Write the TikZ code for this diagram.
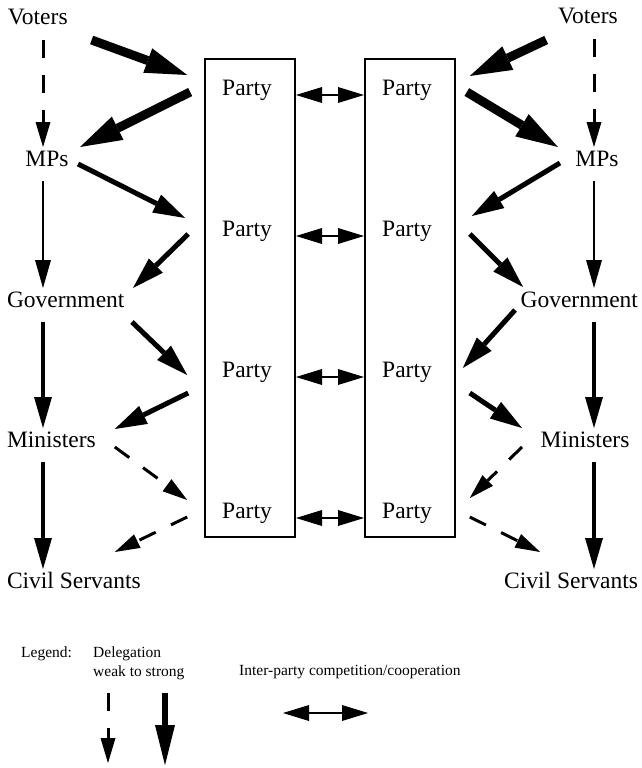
\documentclass[tikz,border=0pt]{standalone}
\usepackage{fontspec}
\setmainfont{Liberation Serif}
\usetikzlibrary{arrows.meta}
\usetikzlibrary{calc}

\begin{document}
\begin{tikzpicture}[x=1pt, y=-1pt,
    actor/.style={inner sep=0pt, outer sep=0pt, text height=16pt, text depth=5pt, font=\fontsize{23.5}{28}\selectfont},
    party/.style={inner sep=0pt, outer sep=0pt, anchor=base, font=\fontsize{23.5}{28}\selectfont},
    pbox/.style={draw, line width=2pt, minimum width=90pt, minimum height=478pt, inner sep=0pt},
    legtext/.style={inner sep=0pt, anchor=base west, font=\fontsize{15.5}{18}\selectfont},
    verystrong/.style={line width=9pt, -{Triangle[length=42pt, width=26pt, line width=0pt]}},
    strong/.style={line width=5pt, -{Triangle[length=32pt, width=20pt, line width=0pt]}},
    firm/.style={line width=4.5pt, -{Triangle[length=31pt, width=18pt, line width=0pt]}},
    weak/.style={line width=2.5pt, -{Triangle[length=28pt, width=16pt, line width=0pt]}},
    dashweak/.style={line width=3pt, dash pattern=on 18pt off 17pt, -{Triangle[length=25pt, width=15pt, line width=0pt]}},
    vert/.style={shorten <=10pt, shorten >=3pt},
    coop/.style={line width=2pt, {Triangle[length=26pt, width=16pt, line width=0pt]}-{Triangle[length=26pt, width=16pt, line width=0pt]}}]
  \useasboundingbox (0,0) rectangle (641,768);

  \node[pbox] (lbox) at (250,298) {};
  \node[pbox] (rbox) at (410,298) {};

  \node[party] (lp1) at (247,95) {Party};
  \node[party] (lp2) at (247,236) {Party};
  \node[party] (lp3) at (247,377) {Party};
  \node[party] (lp4) at (247,518) {Party};
  \node[party] (rp1) at (407,95) {Party};
  \node[party] (rp2) at (407,236) {Party};
  \node[party] (rp3) at (407,377) {Party};
  \node[party] (rp4) at (407,518) {Party};

  \node[actor, anchor=base west] (lvot) at (8,25) {Voters};
  \node[actor, anchor=base] (lmps) at (47,166) {MPs};
  \node[actor, anchor=base west] (lgov) at (7,307) {Government};
  \node[actor, anchor=base west] (lmin) at (7,447) {Ministers};
  \node[actor, anchor=base west] (lciv) at (7,588) {Civil Servants};

  \node[actor, anchor=base] (rvot) at (588,24) {Voters};
  \node[actor, anchor=base] (rmps) at (597,166) {MPs};
  \node[actor, anchor=base east] (rgov) at (638,307) {Government};
  \node[actor, anchor=base] (rmin) at (585,447) {Ministers};
  \node[actor, anchor=base east] (rciv) at (638,588) {Civil Servants};

  \coordinate (lcol) at (43,0);
  \coordinate (rcol) at (594,0);

  \draw[dashweak, vert] (lvot.south -| lcol) -- (lmps.north -| lcol);
  \draw[weak, vert] (lmps.south -| lcol) -- (lgov.north -| lcol);
  \draw[firm, vert] (lgov.south -| lcol) -- (lmin.north -| lcol);
  \draw[firm, vert] (lmin.south -| lcol) -- (lciv.north -| lcol);

  \draw[dashweak, vert] (rvot.south -| rcol) -- (rmps.north -| rcol);
  \draw[weak, vert] (rmps.south -| rcol) -- (rgov.north -| rcol);
  \draw[firm, vert] (rgov.south -| rcol) -- (rmin.north -| rcol);
  \draw[firm, vert] (rmin.south -| rcol) -- (rciv.north -| rcol);

  \draw[verystrong] ([shift={(24,15)}]lvot.base east) -- ([shift={(-35,-20)}]lp1.base west);
  \draw[verystrong] ([shift={(-32,-3)}]lp1.base west) -- ([shift={(11.5,-19)}]lmps.base east);
  \draw[strong] ([shift={(9.5,-2)}]lmps.base east) -- ([shift={(-37,-18)}]lp2.base west);
  \draw[strong] ([shift={(-34,-2)}]lp2.base west) -- ([shift={(8.5,-19)}]lgov.base east);
  \draw[strong] ([shift={(7.5,15)}]lgov.base east) -- ([shift={(-35,-2)}]lp3.base west);
  \draw[strong] ([shift={(-34,16)}]lp3.base west) -- ([shift={(19,-18)}]lmin.base east);
  \draw[dashweak] ([shift={(19,0)}]lmin.base east) -- ([shift={(-35,-18)}]lp4.base west);
  \draw[dashweak] ([shift={(-35,-1)}]lp4.base west) -- ([shift={(-26,-36)}]lciv.base east);

  \draw[verystrong] ([shift={(-12,16)}]rvot.base west) -- ([shift={(38,-19)}]rp1.base east);
  \draw[verystrong] ([shift={(35,-3)}]rp1.base east) -- ([shift={(-17.5,-19)}]rmps.base west);
  \draw[strong] ([shift={(-15.5,-3)}]rmps.base west) -- ([shift={(40,-20)}]rp2.base east);
  \draw[strong] ([shift={(38,-2)}]rp2.base east) -- ([shift={(2.5,-20)}]rgov.base west);
  \draw[strong] ([shift={(-5.5,3)}]rgov.base west) -- ([shift={(31,-9)}]rp3.base east);
  \draw[strong] ([shift={(38,16)}]rp3.base east) -- ([shift={(-18.6,-19)}]rmin.base west);
  \draw[dashweak] ([shift={(-18.6,0)}]rmin.base west) -- ([shift={(38,-20)}]rp4.base east);
  \draw[dashweak] ([shift={(38,-1)}]rp4.base east) -- ([shift={(36,-36)}]rciv.base west);

  \draw[coop] (lp1.base -| lbox.east) -- (rp1.base -| rbox.west);
  \draw[coop] (lp2.base -| lbox.east) -- (rp2.base -| rbox.west);
  \draw[coop] (lp3.base -| lbox.east) -- (rp3.base -| rbox.west);
  \draw[coop] (lp4.base -| lbox.east) -- (rp4.base -| rbox.west);

  \node[legtext] (leg) at (21,657) {Legend:};
  \node[legtext] (del) at (93,657) {Delegation};
  \node[legtext] (wts) at (93,676) {weak to strong};
  \node[legtext] (ipc) at (239,675) {Inter-party competition/cooperation};

  \coordinate (wk0) at (108,693);
  \coordinate (wk1) at (108,763);
  \coordinate (st0) at (165,693);
  \coordinate (st1) at (165,765);
  \coordinate (cp0) at (283,713);
  \coordinate (cp1) at (368,713);

  \draw[dashweak] (wk0) -- (wk1);
  \draw[line width=6pt, -{Triangle[length=40pt, width=20pt, line width=0pt]}] (st0) -- (st1);
  \draw[coop] (cp0) -- (cp1);
\end{tikzpicture}
\end{document}
